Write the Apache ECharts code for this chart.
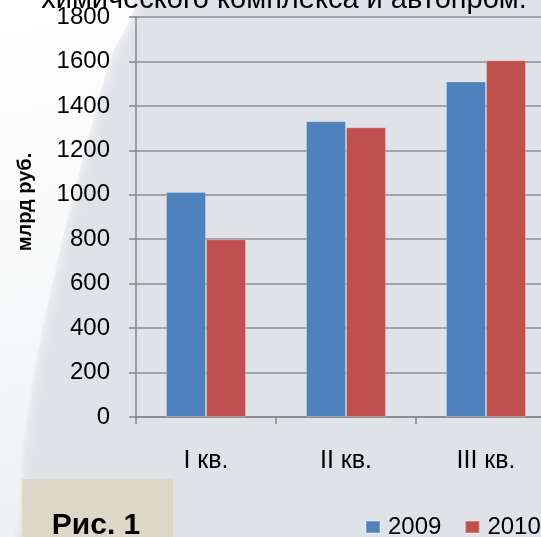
<!DOCTYPE html>
<html>
<head>
<meta charset="utf-8">
<script src="https://cdn.jsdelivr.net/npm/echarts@6/dist/echarts.min.js"></script>
<style>
html,body{margin:0;padding:0;background:#dfe2e6;}
#chart{width:541px;height:537px;}
</style>
</head>
<body>
<div id="chart"></div>
<script>
var categories = ['I кв.', 'II кв.', 'III кв.'];
var series2009 = [1013, 1331, 1510];
var series2010 = [800, 1304, 1605];
var seriesNames = ['2009', '2010'];
var yTicks = {min: 0, max: 1800, interval: 200};
var titleText = 'химического комплекса и автопром.';
var yName = 'млрд руб.';
var figLabel = 'Рис. 1';

var chart = echarts.init(document.getElementById('chart'), null, {renderer: 'canvas'});
var font = 'Arial, "Liberation Sans", sans-serif';
chart.setOption({
  backgroundColor: '#dfe2e6',
  animation: false,
  color: ['#4f81bd', '#c0504d'],
  graphic: [
    {type: 'polygon', z: -10, silent: true,
     shape: {points: [[0,0],[132,0],[110,60],[85,150],[60,250],[38,350],[22,450],[14,537],[0,537]], smooth: 0.3},
     style: {fill: {type: 'linear', x: 0, y: 0, x2: 1, y2: 1, colorStops: [
        {offset: 0, color: '#ffffff'}, {offset: 0.6, color: '#f7f8f9'}, {offset: 1, color: '#eceef1'}]},
       shadowBlur: 14, shadowColor: 'rgba(255,255,255,0.9)'}},
    {type: 'text', x: 284, y: 0, z: 10,
     style: {text: titleText, fontSize: 29, fontFamily: font, fill: '#000',
       textAlign: 'center', textVerticalAlign: 'middle'}},
    {type: 'text', x: 25, y: 202, rotation: Math.PI / 2, z: 10,
     style: {text: yName, fontSize: 20, fontWeight: 'bold', fontFamily: font, fill: '#000',
       textAlign: 'center', textVerticalAlign: 'middle'}},
    {type: 'rect', z: 5, shape: {x: 22, y: 479, width: 151, height: 70},
     style: {fill: '#dcd9c9'}},
    {type: 'text', x: 96, y: 526, z: 10,
     style: {text: figLabel, fontSize: 30, fontWeight: 'bold', fontFamily: font, fill: '#000',
       textAlign: 'center', textVerticalAlign: 'middle'}}
  ],
  legend: {
    data: seriesNames, left: 365, top: 515, itemWidth: 14, itemHeight: 12, itemGap: 23,
    padding: 0, icon: 'rect',
    textStyle: {fontSize: 24, fontFamily: font, color: '#000', padding: [0, 0, 0, 3]}
  },
  grid: {left: 136, width: 420, top: 17, height: 400, containLabel: false, outerBoundsMode: 'none'},
  xAxis: {
    type: 'category', data: categories,
    axisLine: {lineStyle: {color: '#868686', width: 1.5}},
    axisTick: {show: true, length: 7, lineStyle: {color: '#868686', width: 1.5}},
    axisLabel: {fontSize: 25, fontFamily: font, color: '#000', margin: 32}
  },
  yAxis: {
    type: 'value', min: yTicks.min, max: yTicks.max, interval: yTicks.interval,
    axisLine: {show: true, lineStyle: {color: '#868686', width: 1.5}},
    axisTick: {show: true, length: 7, lineStyle: {color: '#868686', width: 1.5}},
    axisLabel: {fontSize: 24, fontFamily: font, color: '#000', margin: 26,
      formatter: function (v) { return String(v); }},
    splitLine: {lineStyle: {color: '#8e8e8e', width: 1.5}}
  },
  series: [
    {name: seriesNames[0], type: 'bar', data: series2009, barWidth: 40, barGap: '0%',
     itemStyle: {borderColor: 'rgba(255,255,255,0.25)', borderWidth: 1}},
    {name: seriesNames[1], type: 'bar', data: series2010, barWidth: 40, barGap: '0%',
     itemStyle: {borderColor: 'rgba(255,255,255,0.25)', borderWidth: 1}}
  ]
});
</script>
</body>
</html>
